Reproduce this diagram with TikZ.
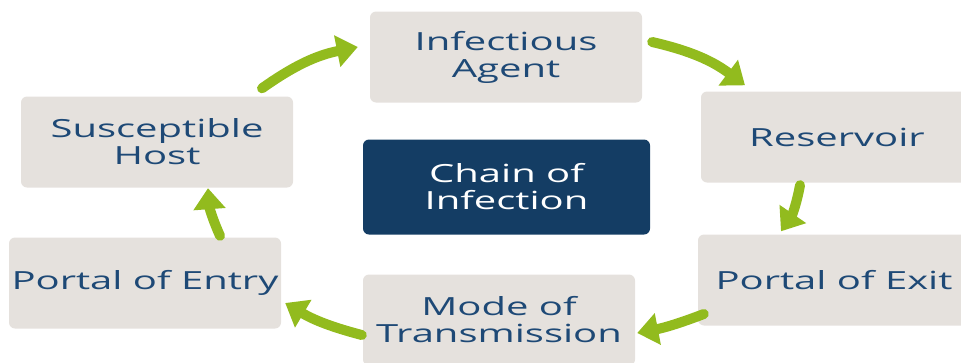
\documentclass[tikz,border=0pt]{standalone}
\usepackage{fontspec}
\setmainfont[FakeStretch=1.6]{Open Sans}
\usetikzlibrary{arrows.meta}

\definecolor{boxgray}{RGB}{229,225,221}
\definecolor{textblue}{RGB}{30,73,118}
\definecolor{chainblue}{RGB}{20,61,100}
\definecolor{arrowgreen}{RGB}{146,187,30}

\begin{document}
\begin{tikzpicture}[x=1pt, y=-1pt,
  block/.style={fill=boxgray, text=textblue, rounded corners=6pt, minimum width=272pt, minimum height=91pt, align=center, inner sep=0pt, font=\fontsize{25}{27}\selectfont},
  flow/.style={draw=arrowgreen, line width=10pt, line cap=round, -{Triangle[length=21pt, width=31pt]}}]

  \clip (0,0) rectangle (961,362);

  % Outer ring
  \node[block] (ia) at (506,57) {Infectious\\Agent};
  \node[block] (res) at (837,137) {Reservoir};
  \node[block] (pe) at (834,280) {Portal of Exit};
  \node[block] (mt) at (499,320) {Mode of\\Transmission};
  \node[block] (pen) at (145,283) {Portal of Entry};
  \node[block] (sh) at (157,142) {Susceptible\\Host};

  % Centre
  \node[block, fill=chainblue, text=white, minimum width=287pt, minimum height=95pt] (chain) at (506.5,187) {Chain of\\Infection};

  % Arrows round the ring
  \draw[flow] ([xshift=105pt, yshift=8pt]sh.north) to[bend left=12] ([xshift=-12pt, yshift=10pt]ia.west);
  \draw[flow] ([xshift=10pt, yshift=15pt]ia.east) to[bend left=12] ([xshift=-92pt, yshift=6pt]res.north);
  \draw[flow] ([xshift=-37pt, yshift=-2.5pt]res.south) to[bend left=12] ([xshift=-53pt, yshift=3pt]pe.north);
  \draw[flow] ([xshift=6pt, yshift=-34pt]pe.west) to[bend left=5] ([xshift=2pt, yshift=-13pt]mt.east);
  \draw[flow] ([xshift=-1pt, yshift=-15pt]mt.west) to[bend left=8] ([xshift=4pt, yshift=-20pt]pen.east);
  \draw[flow] ([xshift=75pt, yshift=1.5pt]pen.north) to[bend left=10] ([xshift=51pt, yshift=-0.5pt]sh.south);

\end{tikzpicture}
\end{document}
